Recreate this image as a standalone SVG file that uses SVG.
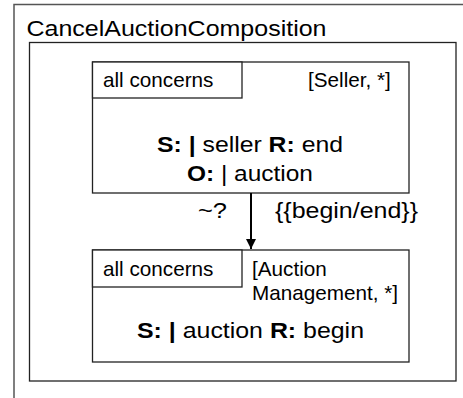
<svg xmlns="http://www.w3.org/2000/svg" width="463" height="398" viewBox="0 0 463 398">
  <style>
    text { font-family: "Liberation Sans", Arial, sans-serif; fill: #000; }
    .t { font-size: 20.7px; }
    .w { font-size: 22px; }
    .title { font-size: 22.5px; }
    .b { font-weight: bold; }
    .box { fill: #fff; stroke: #222; stroke-width: 1.3; }
    .frame { fill: none; stroke: #555; stroke-width: 1.5; }
    .inner { fill: none; stroke: #222; stroke-width: 1.3; }
    .edge { stroke: #000; stroke-width: 2; fill: none; }
  </style>
  <defs>
    <marker id="arrow" viewBox="0 0 10 10" refX="10" refY="5" markerWidth="5" markerHeight="5" markerUnits="strokeWidth" orient="auto">
      <path d="M0,0 L10,5 L0,10 z" fill="#000"/>
    </marker>
  </defs>

  <!-- outer composition frame -->
  <g id="composition">
    <path class="frame" d="M14,398 V4.5 H463"/>
    <text class="title" x="26.5" y="36" textLength="300" lengthAdjust="spacingAndGlyphs">CancelAuctionComposition</text>
    <rect class="inner" x="29.5" y="42.5" width="426.5" height="338.5"/>
  </g>

  <!-- seller role -->
  <g id="seller">
    <rect class="box" x="92.5" y="62" width="316.5" height="131"/>
    <rect class="box" x="92.5" y="62" width="149.5" height="36"/>
    <text class="t" x="103" y="87">all concerns</text>
    <text class="t" x="308" y="87">[Seller, *]</text>
    <text class="w" x="157" y="152" textLength="186" lengthAdjust="spacingAndGlyphs"><tspan class="b">S: |</tspan> seller <tspan class="b">R:</tspan> end</text>
    <text class="w" x="187" y="181" textLength="126" lengthAdjust="spacingAndGlyphs"><tspan class="b">O:</tspan> | auction</text>
  </g>

  <!-- auction management role -->
  <g id="auction-management">
    <rect class="box" x="92.5" y="250" width="316.5" height="112"/>
    <rect class="box" x="92.5" y="250" width="149.5" height="37"/>
    <text class="t" x="103" y="276">all concerns</text>
    <text class="t" x="252" y="276">[Auction</text>
    <text class="t" x="252" y="300">Management, *]</text>
    <text class="w" x="137" y="338" textLength="227" lengthAdjust="spacingAndGlyphs"><tspan class="b">S: |</tspan> auction <tspan class="b">R:</tspan> begin</text>
  </g>

  <!-- connectors -->
  <g id="connectors">
    <line class="edge" x1="251" y1="193" x2="251" y2="249" marker-end="url(#arrow)"/>
    <text class="w" x="198" y="218" textLength="29" lengthAdjust="spacingAndGlyphs">~?</text>
    <text class="w" x="275" y="218" textLength="143" lengthAdjust="spacingAndGlyphs">{{begin/end}}</text>
  </g>
</svg>
